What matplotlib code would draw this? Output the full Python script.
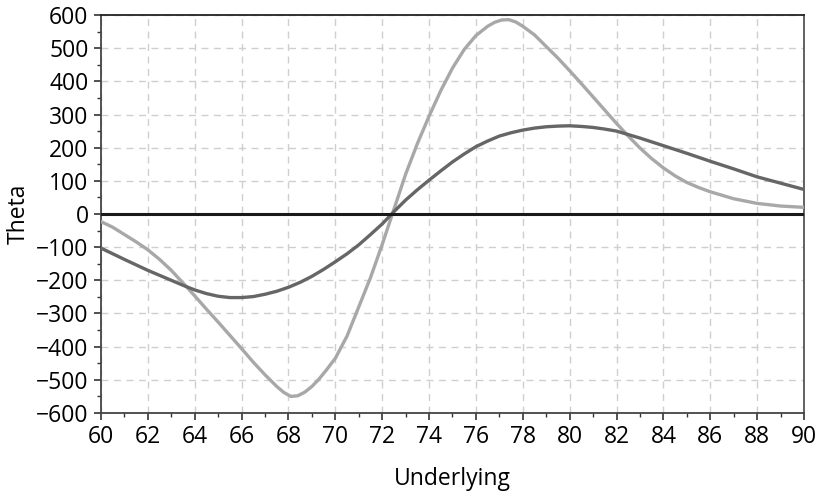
import matplotlib.pyplot as plt
from matplotlib.ticker import MultipleLocator

plt.rcParams['font.family'] = ['Open Sans', 'DejaVu Sans']

# light curve
x_light = [60, 60.5, 61, 61.5, 62, 62.5, 63, 63.5, 64, 64.5, 65, 65.5, 66, 66.5,
           67, 67.5, 67.8, 68.1, 68.4, 68.7, 69, 69.3, 69.6, 70, 70.5, 71, 71.5,
           72, 72.5, 73, 73.5, 74, 74.5, 75, 75.5, 76, 76.5, 76.8, 77.1, 77.4,
           77.7, 78, 78.5, 79, 79.5, 80, 80.5, 81, 81.5, 82, 82.5, 83, 83.5, 84,
           84.5, 85, 85.5, 86, 87, 88, 89, 90]
theta_light = [-23, -40, -62, -84, -108, -137, -170, -208, -247, -287, -326, -366,
               -406, -447, -485, -520, -538, -550, -548, -537, -520, -498, -472,
               -435, -368, -280, -192, -92, 14, 120, 212, 295, 372, 440, 496, 538,
               566, 578, 585, 586, 579, 566, 540, 505, 470, 432, 393, 353, 313,
               273, 235, 199, 167, 139, 115, 95, 80, 67, 46, 32, 24, 20]

# dark curve
x_dark = [60, 61, 62, 63, 63.5, 64, 64.5, 65, 65.5, 66, 66.5, 67, 67.5, 68, 68.5,
          69, 69.5, 70, 70.5, 71, 71.5, 72, 72.5, 73, 73.5, 74, 74.5, 75, 75.5,
          76, 76.5, 77, 77.5, 78, 78.5, 79, 79.5, 80, 80.5, 81, 81.5, 82, 83, 84,
          85, 86, 87, 88, 89, 90]
theta_dark = [-103, -137, -170, -200, -215, -229, -240, -248, -252, -252, -249,
              -242, -233, -221, -206, -188, -167, -144, -120, -93, -62, -30, 7,
              42, 73, 102, 130, 157, 181, 203, 220, 235, 245, 253, 259, 263, 265,
              266, 264, 261, 256, 250, 229, 206, 183, 159, 136, 112, 93, 74]

fig = plt.figure(figsize=(8.24, 4.92), dpi=100)
ax = fig.add_axes([0.1226, 0.1606, 0.8531, 0.8089])

ax.plot(x_light, theta_light, color='#a8a8a8', lw=2.4, zorder=3)
ax.plot(x_dark, theta_dark, color='#666666', lw=2.4, zorder=3)
ax.axhline(0, color='#1a1a1a', lw=2.2, zorder=4)

ax.set_xlim(60, 90)
ax.set_ylim(-600, 600)
ax.xaxis.set_major_locator(MultipleLocator(2))
ax.xaxis.set_minor_locator(MultipleLocator(1))
ax.yaxis.set_major_locator(MultipleLocator(100))
ax.yaxis.set_minor_locator(MultipleLocator(50))

ax.grid(True, which='major', color='#cfcfcf', linestyle=(0, (5, 4)), lw=1.0)
ax.set_axisbelow(True)

ax.tick_params(which='major', direction='out', length=5, width=1.2,
               color='#333333', labelsize=16.5, pad=4)
ax.tick_params(which='minor', direction='out', length=3, width=1,
               color='#333333')

for s in ['left', 'bottom']:
    ax.spines[s].set_color('#444444')
    ax.spines[s].set_linewidth(1.3)
ax.spines['top'].set_color('#222222')
ax.spines['top'].set_linewidth(1.3)
ax.spines['right'].set_color('#555555')
ax.spines['right'].set_linewidth(1.3)

ax.set_xlabel('Underlying', fontsize=16.5, labelpad=12.5)
ax.set_ylabel('Theta', fontsize=16.5, labelpad=4)

fig.savefig('out.png', dpi=100)
plt.close(fig)
